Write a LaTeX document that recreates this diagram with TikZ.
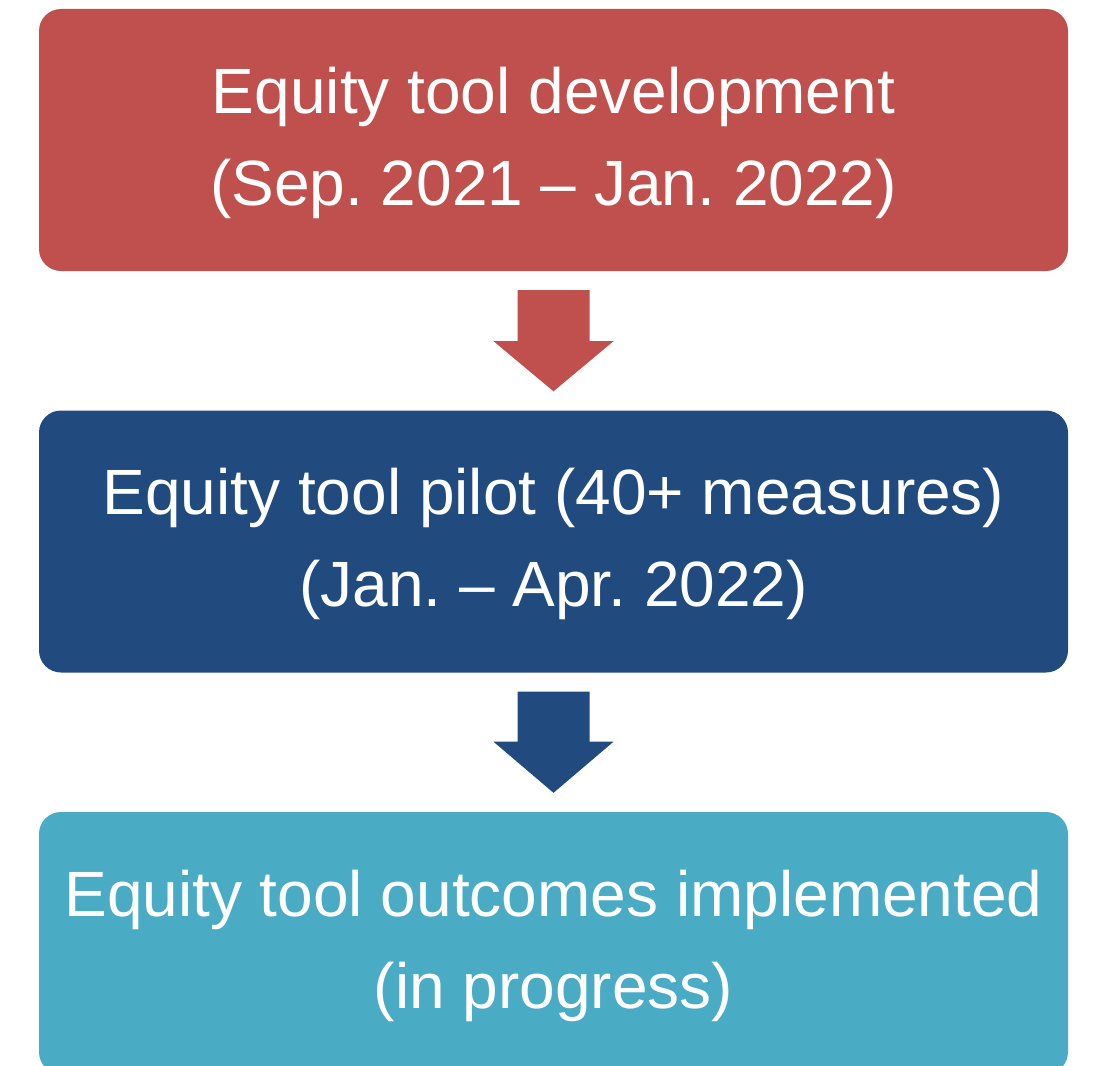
\documentclass[tikz,border=0pt]{standalone}
\usepackage{fontspec}
\setmainfont{Liberation Sans}
\usetikzlibrary{calc}
\definecolor{cred}{HTML}{C0504D}
\definecolor{cblue}{HTML}{214A7E}
\definecolor{cteal}{HTML}{4AABC5}
\newcommand{\lift}{\rule{0pt}{52pt}}
\begin{document}
\frenchspacing
\begin{tikzpicture}[x=1pt,y=-1pt,
  stagebox/.style={fill=#1, draw=none, rounded corners=22pt, minimum width=1029pt, minimum height=262pt,
    inner sep=0pt, align=center, text=white, font=\fontsize{64}{92}\selectfont\frenchspacing},
  flowarrow/.style={fill=#1, draw=none}]
\useasboundingbox (0,0) rectangle (1099,1065);
\node[stagebox=cred] (a) at (553.5,140) {\lift Equity tool development\\(Sep. 2021 -- Jan. 2022)};
\node[stagebox=cblue] (b) at (553.5,541.5) {\lift Equity tool pilot (40+ measures)\\(Jan. -- Apr. 2022)};
\node[stagebox=cteal] (c) at (553.5,943) {\lift Equity tool outcomes implemented\\(in progress)};
\fill[cred] ($(a.south)+(-36,19)$) -- ($(a.south)+(36,19)$) -- ($(a.south)+(36,70)$) -- ($(a.south)+(60,70)$)
  -- ($(b.north)+(0,-19)$) -- ($(a.south)+(-60,70)$) -- ($(a.south)+(-36,70)$) -- cycle;
\fill[cblue] ($(b.south)+(-36,19)$) -- ($(b.south)+(36,19)$) -- ($(b.south)+(36,69)$) -- ($(b.south)+(60,69)$)
  -- ($(c.north)+(0,-19)$) -- ($(b.south)+(-60,69)$) -- ($(b.south)+(-36,69)$) -- cycle;
\end{tikzpicture}
\end{document}
